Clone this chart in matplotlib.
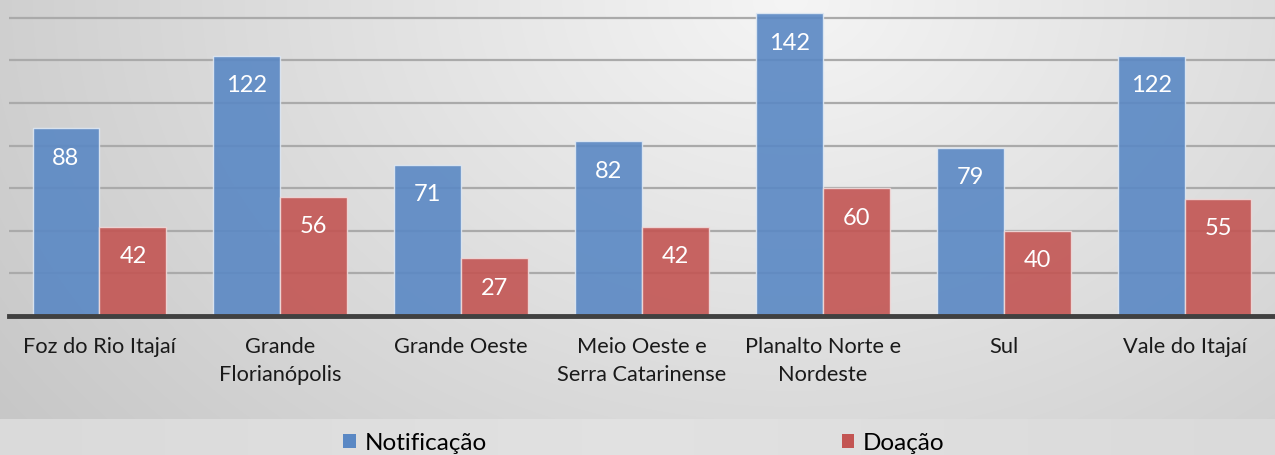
import numpy as np
import matplotlib
matplotlib.use("Agg")
import matplotlib.pyplot as plt
from matplotlib.patches import Patch

categories = ["Foz do Rio Itajaí", "Grande\nFlorianópolis", "Grande Oeste",
              "Meio Oeste e\nSerra Catarinense", "Planalto Norte e\nNordeste", "Sul",
              "Vale do Itajaí"]
notificacao = [88, 122, 71, 82, 142, 79, 122]
doacao = [42, 56, 27, 42, 60, 40, 55]
series_names = ["Notificação", "Doação"]

W, H = 1275, 455
fig = plt.figure(figsize=(W / 100, H / 100), dpi=100)
plt.rcParams['font.family'] = ['Lato', 'DejaVu Sans']

# background
bg = fig.add_axes([0, 0, 1, 1], zorder=-10)
yy, xx = np.mgrid[0:H, 0:W]
split = 419
r = np.sqrt(((xx - 0.62 * W) / (0.72 * W)) ** 2 + ((yy - 0) / (1.5 * H)) ** 2)
upper = 0.96 - 0.17 * np.clip(r, 0, 1.2)
lower = 0.885 - 0.03 * np.abs(xx - 0.5 * W) / (0.5 * W)
img = np.where(yy < split, upper, lower)
bg.imshow(np.dstack([img] * 3), extent=[0, 1, 0, 1], aspect='auto', origin='upper')
bg.axis('off')

left = 9 / W
bottom = (H - 316) / H
ax = fig.add_axes([left, bottom, 1 - left, 316 / H])
ax.set_facecolor('none')

x = np.arange(len(categories))
bw = 0.37
blue = '#5a88c4'
red = '#c35553'
b1 = ax.bar(x - bw / 2, notificacao, bw, color=blue, alpha=0.9, edgecolor='#dfe8f3', linewidth=1.0, zorder=3)
b2 = ax.bar(x + bw / 2, doacao, bw, color=red, alpha=0.9, edgecolor='#f0dada', linewidth=1.0, zorder=3)

for bars, vals in ((b1, notificacao), (b2, doacao)):
    for rect, v in zip(bars, vals):
        ax.annotate(str(v), (rect.get_x() + rect.get_width() / 2, v), xytext=(0, -21.5),
                    textcoords='offset points', ha='center', va='center',
                    color='white', fontsize=17, zorder=5)

ax.set_xlim(-0.5, len(categories) - 0.5)
ax.set_ylim(0, 148.3)
ax.set_yticks(np.arange(20, 141, 20))
ax.yaxis.grid(True, color='#aaaaaa', linewidth=1.6, zorder=1)
ax.set_axisbelow(True)
ax.tick_params(axis='y', left=False, labelleft=False)
ax.set_xticks(x)
ax.set_xticklabels(categories, fontsize=15.7, color='#1a1a1a', linespacing=1.5)
ax.tick_params(axis='x', length=0, pad=15)
for s in ('top', 'right', 'left'):
    ax.spines[s].set_visible(False)
ax.spines['bottom'].set_color('#404040')
ax.spines['bottom'].set_linewidth(3.5)
ax.spines['bottom'].set_zorder(4)

handles = [Patch(facecolor=blue, edgecolor='none'), Patch(facecolor=red, edgecolor='none')]
fig.legend(handles, series_names, loc='center', bbox_to_anchor=(0.505, 1 - 443 / H),
           ncol=2, frameon=False, fontsize=17.5, handlelength=0.5, handleheight=0.5,
           handletextpad=0.37, columnspacing=14.6, borderpad=0)

fig.savefig('out.png', dpi=100)
